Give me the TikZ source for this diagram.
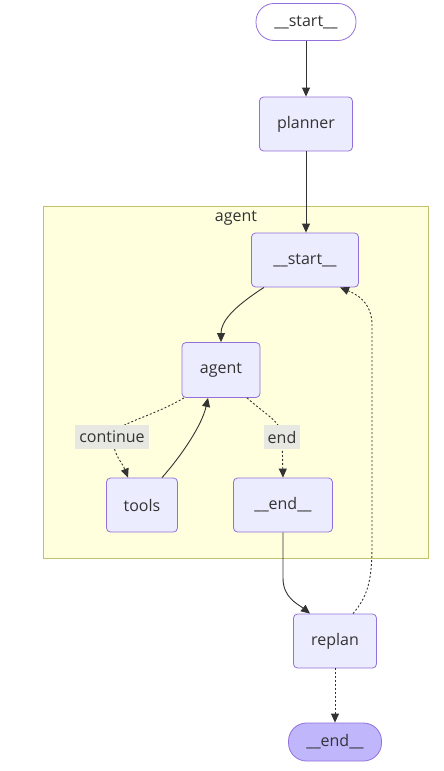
\documentclass[tikz,border=0pt]{standalone}
\usepackage{fontspec}
\setmainfont{Open Sans}
\usetikzlibrary{arrows.meta}

\definecolor{nodefill}{HTML}{ECECFF}
\definecolor{nodeline}{HTML}{9370DB}
\definecolor{lastfill}{HTML}{BFB6FC}
\definecolor{clusterfill}{HTML}{FFFFDE}
\definecolor{clusterline}{HTML}{C2C26A}
\definecolor{edgecol}{HTML}{333333}
\definecolor{labelfill}{HTML}{E8E8E3}

\tikzset{
  box/.style={draw=nodeline, fill=nodefill, rounded corners=4pt, line width=0.8pt,
    text=edgecol, font=\fontsize{16}{19}\selectfont, inner sep=0pt},
  pill/.style={box, rounded corners=18pt},
  flow/.style={draw=edgecol, line width=0.9pt, -{Triangle[length=9pt,width=8pt]}},
  cond/.style={flow, dash pattern=on 2pt off 2pt},
  lbl/.style={fill=labelfill, text=edgecol, font=\fontsize{16}{19}\selectfont,
    inner xsep=4pt, inner ysep=2pt, minimum height=24pt},
}

\begin{document}
\begin{tikzpicture}[x=1pt,y=-1pt]
                \useasboundingbox (0,0) rectangle (444,771);
                % subgraph
                \draw[draw=clusterline, fill=clusterfill, line width=0.8pt] (43,206) rectangle (428,558);
                \node[text=edgecol, font=\fontsize{16}{19}\selectfont] (cltitle) at (236,218) {agent};
                % nodes
                \node[pill, fill=white, minimum width=100pt, minimum height=37pt] (start) at (306,22) {\_\_start\_\_};
                \node[box, minimum width=93pt, minimum height=54pt] (planner) at (306,124) {planner};
                \node[box, minimum width=107pt, minimum height=54pt] (instart) at (305,260) {\_\_start\_\_};
                \node[box, minimum width=78pt, minimum height=55pt] (agent) at (221,370) {agent};
                \node[box, minimum width=71pt, minimum height=54pt] (tools) at (142,505) {tools};
                \node[box, minimum width=99pt, minimum height=54pt] (inend) at (283,505) {\_\_end\_\_};
                \node[box, minimum width=83pt, minimum height=54pt] (replan) at (335,641) {replan};
                \node[pill, fill=lastfill, minimum width=93pt, minimum height=38pt] (end) at (335,742) {\_\_end\_\_};
                % edges
                \draw[flow] (start) -- (planner);
                \draw[flow] (planner.south) -- ([xshift=1pt]instart.north);
                \draw[flow] ([xshift=-41pt]instart.south) .. controls (232,308) and (221,322) .. (agent.north);
                \draw[cond] ([xshift=-37pt]agent.south) .. controls (150,418) and (113,424) .. (112,437)
                    node[lbl] (lcont) {continue} .. controls (114,456) and (122,462) .. ([xshift=-14pt]tools.north);
                \draw[flow] ([xshift=20pt]tools.north) .. controls (182,455) and (202,425) .. ([xshift=-13pt]agent.south);
                \draw[cond] ([xshift=26pt]agent.south) .. controls (266,415) and (282,422) .. (282,437)
                    node[lbl] (lend) {end} -- (inend.north);
                \draw[flow] (inend.south) -- (283,578) .. controls (283,598) and (298,604) .. ([xshift=-25pt]replan.north);
                \draw[cond] ([xshift=18pt]replan.north) .. controls (368,596) and (372,580) .. (372,545)
                    -- (372,325) .. controls (372,302) and (356,294) .. ([xshift=35pt]instart.south);
                \draw[cond] (replan) -- (end);
            \end{tikzpicture}
\end{document}
